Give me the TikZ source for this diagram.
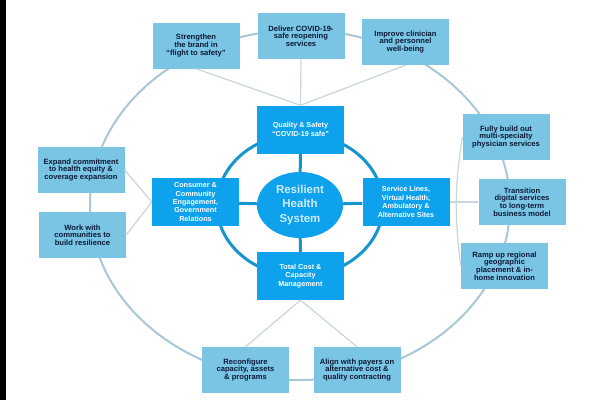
\documentclass[tikz,border=0pt]{standalone}
\usepackage{fontspec}
\setmainfont{Liberation Sans}
\usetikzlibrary{shapes.geometric}
\definecolor{outerfill}{RGB}{122,196,228}
\definecolor{outertext}{RGB}{10,26,55}
\definecolor{innerfill}{RGB}{14,162,236}
\definecolor{ringc}{RGB}{22,148,208}
\definecolor{ellc}{RGB}{168,200,214}
\definecolor{linkc}{RGB}{200,214,220}
\definecolor{centertext}{RGB}{205,234,252}
\begin{document}
\begin{tikzpicture}[x=1pt,y=-1pt,
  obox/.style={fill=outerfill, text=outertext, font=\bfseries\fontsize{7.6}{7.7}\selectfont, align=center, minimum width=87pt, minimum height=46pt, inner sep=1pt},
  ibox/.style={fill=innerfill, text=white, font=\bfseries\fontsize{7.2}{8.4}\selectfont, align=center, minimum width=87pt, minimum height=48pt, inner sep=1pt},
  cbox/.style={ellipse, fill=innerfill, text=centertext, font=\bfseries\fontsize{11.5}{14.5}\selectfont, align=center, minimum width=86pt, minimum height=66pt, inner sep=0pt},
  outerring/.style={draw=ellc, line width=2pt},
  innerring/.style={draw=ringc, line width=3pt},
  spoke/.style={draw=ringc, line width=3pt},
  link/.style={draw=linkc, line width=1.2pt}
]
\useasboundingbox (0,0) rectangle (600,400);
\fill[white] (0,0) rectangle (600,400);
\fill[black] (0,0) rectangle (6,400);

% rings
\draw[outerring] (300,205) ellipse [x radius=210pt, y radius=175pt];
\draw[innerring] (300,205) ellipse [x radius=83pt, y radius=71pt];

% outer boxes
\node[obox] (strengthen) at (196,45.5) {Strengthen\\the brand in\\“flight to safety”};
\node[obox] (deliver) at (301,36) {Deliver COVID-19-\\safe reopening\\services};
\node[obox] (improve) at (405.5,42) {Improve clinician\\and personnel\\well-being};
\node[obox] (expand) at (81,170) {Expand commitment\\to health equity \&\\coverage expansion};
\node[obox] (work) at (82.5,235) {Work with\\communities to\\build resilience};
\node[obox] (fully) at (506,137) {Fully build out\\multi-specialty\\physician services};
\node[obox] (transition) at (522,202) {Transition\\digital services\\to long-term\\business model};
\node[obox] (ramp) at (504.5,266) {Ramp up regional\\geographic\\placement \& in-\\home innovation};
\node[obox] (reconfigure) at (245.5,370) {Reconfigure\\capacity, assets\\\& programs};
\node[obox] (align) at (357,370) {Align with payers on\\alternative cost \&\\quality contracting};

% inner boxes
\node[ibox] (quality) at (300.5,129.5) {Quality \& Safety\\“COVID-19 safe”};
\node[ibox] (consumer) at (195.5,202) {Consumer \&\\Community\\Engagement,\\Government\\Relations};
\node[ibox] (service) at (406,202) {Service Lines,\\Virtual Health,\\Ambulatory \&\\Alternative Sites};
\node[ibox] (total) at (300.5,276) {Total Cost \&\\Capacity\\Management};
\node[cbox] (center) at (300,205) {Resilient\\Health\\System};

% spokes
\draw[spoke] (center) -- (quality);
\draw[spoke] (center) -- (consumer);
\draw[spoke] (center) -- (service);
\draw[spoke] (center) -- (total);

% links
\draw[link] (strengthen.south) -- (quality.north);
\draw[link] (deliver.south) -- (quality.north);
\draw[link] (improve.south) -- (quality.north);
\draw[link] (expand.east) -- (consumer.west);
\draw[link] (work.east) -- (consumer.west);
\draw[link] (fully.west) to[bend right=8] (ramp.west);
\draw[link] (service.east) -- (transition.west);
\draw[link] (total.south) -- (reconfigure.north);
\draw[link] (total.south) -- (align.north);
\end{tikzpicture}
\end{document}
